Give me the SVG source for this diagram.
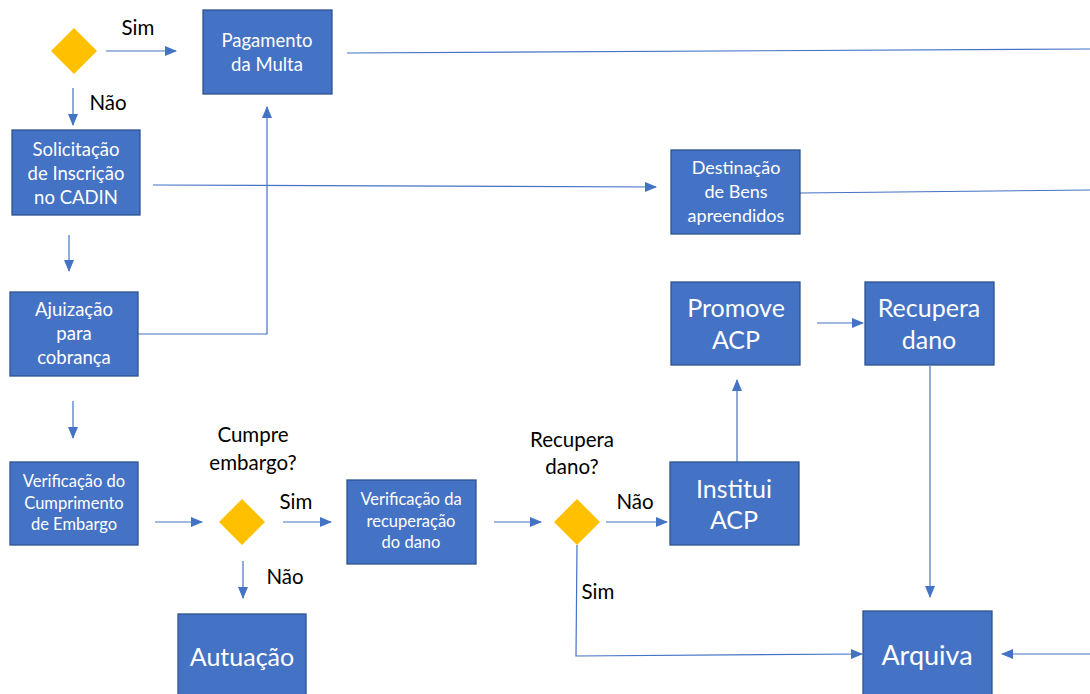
<svg xmlns="http://www.w3.org/2000/svg" width="1090" height="694" viewBox="0 0 1090 694">
  <style>
    .box { fill: #4472C4; stroke: #2F528F; stroke-width: 1.3; }
    .dia { fill: #FFC000; }
    .bt { fill: #FFFFFF; font-family: Lato, "Open Sans", sans-serif; text-anchor: middle; }
    .s { font-size: 18.5px; }
    .m { font-size: 16.5px; }
    .d { font-size: 18px; }
    .l { font-size: 25px; }
    .xl { font-size: 25px; }
    .xxl { font-size: 27px; }
    .lbl { fill: #000000; font-family: Lato, "Open Sans", sans-serif; font-size: 20.5px; }
    .c { text-anchor: middle; }
    .ln { fill: none; stroke: #4472C4; stroke-width: 1.2; }
    .ar { marker-end: url(#head); }
  </style>
  <defs>
    <marker id="head" markerUnits="userSpaceOnUse" markerWidth="12" markerHeight="10" refX="11" refY="5" orient="auto">
      <path d="M0,0 L12,5 L0,10 Z" fill="#4472C4"/>
    </marker>
  </defs>

  <rect width="1090" height="694" fill="#FFFFFF"/>

  <!-- connectors -->
  <g id="connectors">
    <line class="ln ar" x1="106" y1="51" x2="176" y2="51"/>
    <line class="ln ar" x1="73" y1="88" x2="73" y2="125"/>
    <line class="ln" x1="347" y1="53" x2="1090" y2="49"/>
    <line class="ln ar" x1="153" y1="185" x2="656" y2="187"/>
    <line class="ln" x1="800" y1="193" x2="1090" y2="190"/>
    <line class="ln ar" x1="69" y1="235" x2="69" y2="271"/>
    <polyline class="ln ar" points="138,334 267,334 267,107"/>
    <line class="ln ar" x1="73" y1="401" x2="73" y2="438"/>
    <line class="ln ar" x1="155" y1="522" x2="202" y2="522"/>
    <line class="ln ar" x1="283" y1="522" x2="331" y2="522"/>
    <line class="ln ar" x1="243" y1="561" x2="243" y2="598"/>
    <line class="ln ar" x1="494" y1="522" x2="541" y2="522"/>
    <line class="ln ar" x1="606" y1="522" x2="667" y2="522"/>
    <line class="ln ar" x1="737" y1="462" x2="737" y2="380"/>
    <line class="ln ar" x1="817" y1="323" x2="863" y2="323"/>
    <line class="ln ar" x1="930" y1="366" x2="930" y2="597"/>
    <polyline class="ln ar" points="577,545 576,656 862,654"/>
    <line class="ln ar" x1="1090" y1="654" x2="1002" y2="654"/>
  </g>

  <!-- edge labels -->
  <g id="labels">
    <text class="lbl c" x="138" y="35">Sim</text>
    <text class="lbl c" x="108" y="110">Não</text>
    <text class="lbl c" x="253" y="442">Cumpre</text>
    <text class="lbl c" x="253" y="470">embargo?</text>
    <text class="lbl c" x="296" y="509">Sim</text>
    <text class="lbl c" x="285" y="584">Não</text>
    <text class="lbl c" x="572" y="447">Recupera</text>
    <text class="lbl c" x="572" y="474">dano?</text>
    <text class="lbl c" x="635" y="509">Não</text>
    <text class="lbl c" x="598" y="599">Sim</text>
  </g>

  <!-- decisions -->
  <g id="decision-multa">
    <polygon class="dia" points="74,28 97,51 74,74 51,51"/>
  </g>
  <g id="decision-embargo">
    <polygon class="dia" points="242,499 265,522 242,545 219,522"/>
  </g>
  <g id="decision-dano">
    <polygon class="dia" points="577,499 600,522 577,545 554,522"/>
  </g>

  <!-- process boxes -->
  <g id="pagamento">
    <rect class="box" x="203" y="10" width="129" height="84"/>
    <text class="bt s" x="267" y="47">Pagamento</text>
    <text class="bt s" x="267" y="71">da Multa</text>
  </g>
  <g id="solicitacao">
    <rect class="box" x="12" y="130" width="128" height="85"/>
    <text class="bt s" x="76" y="156">Solicitação</text>
    <text class="bt s" x="76" y="180">de Inscrição</text>
    <text class="bt s" x="76" y="204">no CADIN</text>
  </g>
  <g id="destinacao">
    <rect class="box" x="671" y="150" width="129" height="84"/>
    <text class="bt d" x="736" y="174">Destinação</text>
    <text class="bt d" x="736" y="198">de Bens</text>
    <text class="bt d" x="736" y="222">apreendidos</text>
  </g>
  <g id="ajuizacao">
    <rect class="box" x="10" y="292" width="128" height="84"/>
    <text class="bt s" x="74" y="316">Ajuização</text>
    <text class="bt s" x="74" y="340">para</text>
    <text class="bt s" x="74" y="364">cobrança</text>
  </g>
  <g id="verif-embargo">
    <rect class="box" x="10" y="462" width="128" height="83"/>
    <text class="bt m" x="74" y="487">Verificação do</text>
    <text class="bt m" x="74" y="509">Cumprimento</text>
    <text class="bt m" x="74" y="530">de Embargo</text>
  </g>
  <g id="autuacao">
    <rect class="box" x="178" y="614" width="128" height="90"/>
    <text class="bt xl" x="242" y="666">Autuação</text>
  </g>
  <g id="verif-dano">
    <rect class="box" x="347" y="480" width="129" height="84"/>
    <text class="bt m" x="411" y="505">Verificação da</text>
    <text class="bt m" x="411" y="527">recuperação</text>
    <text class="bt m" x="411" y="548">do dano</text>
  </g>
  <g id="institui-acp">
    <rect class="box" x="670" y="462" width="129" height="83"/>
    <text class="bt l" x="734" y="498">Institui</text>
    <text class="bt l" x="734" y="529">ACP</text>
  </g>
  <g id="promove-acp">
    <rect class="box" x="671" y="282" width="129" height="83"/>
    <text class="bt l" x="736" y="317">Promove</text>
    <text class="bt l" x="736" y="349">ACP</text>
  </g>
  <g id="recupera-dano">
    <rect class="box" x="865" y="282" width="129" height="83"/>
    <text class="bt l" x="929" y="317">Recupera</text>
    <text class="bt l" x="929" y="349">dano</text>
  </g>
  <g id="arquiva">
    <rect class="box" x="863" y="611" width="129" height="93"/>
    <text class="bt xxl" x="927" y="665">Arquiva</text>
  </g>
</svg>
